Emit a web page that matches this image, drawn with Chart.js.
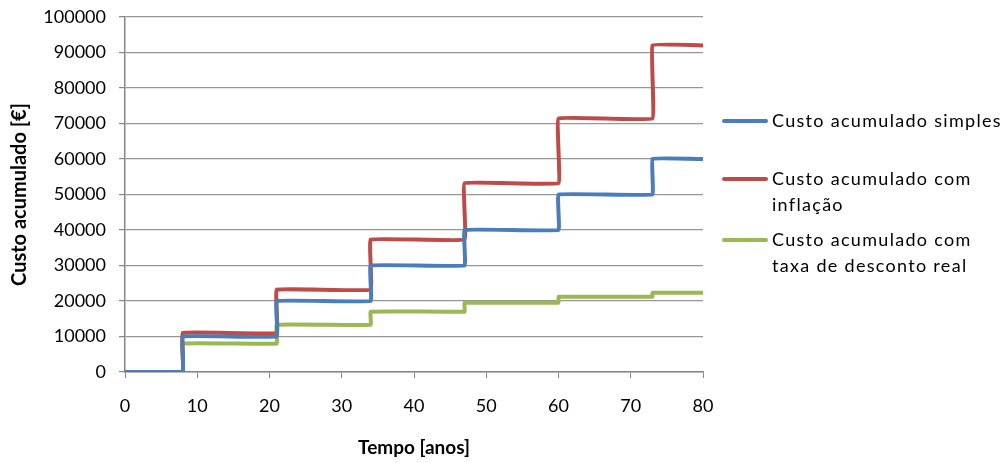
<!DOCTYPE html>
<html>
<head>
<meta charset="utf-8">
<script src="https://cdn.jsdelivr.net/npm/chart.js@4/dist/chart.umd.min.js"></script>
<style>
  html, body { margin: 0; padding: 0; background: #fff; }
  #wrap { position: relative; width: 1005px; height: 463px; }
  #legend { position: absolute; left: 722px; top: 107px; width: 283px; font-family: "Lato", "Noto Sans", sans-serif; font-size: 18px; color: #000; letter-spacing: 1.3px; white-space: nowrap; }
  .lg-item { position: relative; padding-left: 50px; line-height: 26px; }
  .lg-line { position: absolute; left: 0; top: 12px; width: 46px; height: 4px; border-radius: 2px; }
</style>
</head>
<body>
<div id="wrap">
  <canvas id="chart" width="1005" height="463"></canvas>
  <div id="legend"></div>
</div>
<script>
// step years (where the cumulative cost jumps) and plot limits
const STEP_YEARS = [8, 21, 34, 47, 60, 73];
const X_END = 80;

// cumulative cost level after each step
const SIMPLES = [0, 10000, 20000, 30000, 40000, 50000, 60000];
const INFLACAO = [0, 11000, 23200, 37300, 53200, 71400, 92000];
const DESCONTO = [0, 8000, 13300, 17000, 19500, 21200, 22300];

const Y_TICKS = [0, 10000, 20000, 30000, 40000, 50000, 60000, 70000, 80000, 90000, 100000];
const X_TICKS = [0, 10, 20, 30, 40, 50, 60, 70, 80];

const SERIES = [
  { label: "Custo acumulado simples", lines: ["Custo acumulado simples"], levels: SIMPLES, color: "#4a7ebb" },
  { label: "Custo acumulado com inflação", lines: ["Custo acumulado com", "inflação"], levels: INFLACAO, color: "#be4b48" },
  { label: "Custo acumulado com taxa de desconto real", lines: ["Custo acumulado com", "taxa de desconto real"], levels: DESCONTO, color: "#98b954" },
];

// build staircase points from the step years and levels
function stairs(levels) {
  const pts = [{ x: 0, y: levels[0] }];
  STEP_YEARS.forEach((yr, i) => {
    pts.push({ x: yr, y: levels[i] });
    pts.push({ x: yr, y: levels[i + 1] });
  });
  pts.push({ x: X_END, y: levels[levels.length - 1] });
  return pts;
}

const FONT = "'Lato', 'Noto Sans', sans-serif";

new Chart(document.getElementById("chart"), {
  type: "line",
  data: {
    datasets: SERIES.map(s => ({
      label: s.label,
      data: stairs(s.levels),
      borderColor: s.color,
      borderWidth: 4,
      pointRadius: 0,
      tension: 0.06,
      fill: false,
    })),
  },
  options: {
    responsive: false,
    animation: false,
    layout: { padding: { top: 17, right: 302, left: 0, bottom: 0 } },
    plugins: { legend: { display: false }, tooltip: { enabled: false } },
    scales: {
      x: {
        type: "linear",
        min: 0,
        max: X_END,
        afterBuildTicks: s => { s.ticks = X_TICKS.map(v => ({ value: v })); },
        afterFit: s => { s.height = 91; s.paddingLeft = 0; s.paddingRight = 0; },
        grid: { drawOnChartArea: false, color: "#868686", tickLength: 6, tickColor: "#868686" },
        border: { color: "#868686", width: 1.5 },
        ticks: { color: "#000", font: { family: FONT, size: 18 }, padding: 17, maxRotation: 0 },
        title: { display: true, text: "Tempo [anos]", color: "#000", font: { family: FONT, size: 19, weight: "bold" }, padding: { top: 10 } },
      },
      y: {
        min: 0,
        max: 100000,
        afterBuildTicks: s => { s.ticks = Y_TICKS.map(v => ({ value: v })); },
        afterFit: s => { s.width = 125; s.paddingTop = 0; s.paddingBottom = 0; },
        grid: { color: "#969696", lineWidth: 1.2, tickLength: 6, tickColor: "#868686" },
        border: { color: "#868686", width: 1.5 },
        ticks: { color: "#000", font: { family: FONT, size: 18 }, padding: 13, callback: v => String(v) },
        title: { display: true, text: "Custo acumulado [€]", color: "#000", font: { family: FONT, size: 20, weight: "bold" }, padding: { bottom: 0, top: 8 } },
      },
    },
  },
});

// legend on the right, as in the original
const lg = document.getElementById("legend");
SERIES.forEach((s, i) => {
  const item = document.createElement("div");
  item.className = "lg-item";
  item.style.marginBottom = i === 0 ? "32px" : "9px";
  item.innerHTML = '<span class="lg-line" style="background:' + s.color + '"></span>' + s.lines.join("<br>");
  lg.appendChild(item);
});
</script>
</body>
</html>
